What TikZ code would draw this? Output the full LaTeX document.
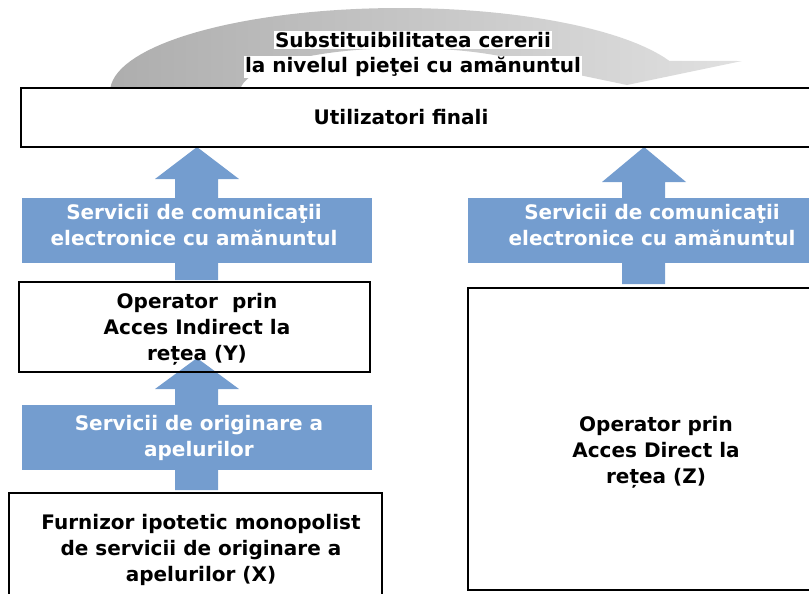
\documentclass[tikz,border=0pt]{standalone}
\usepackage{fontspec}
\setmainfont{DejaVu Sans}
\definecolor{arrowblue}{RGB}{116,157,207}
\tikzset{
  boxtext/.style={font=\fontsize{15}{19.5}\selectfont\bfseries, align=center, inner sep=0pt},
  bandtext/.style={boxtext, text=white},
  arctext/.style={boxtext, fill=white, inner sep=1pt},
  boxline/.style={line width=1.3pt}
}
\begin{document}
\begin{tikzpicture}[x=0.75pt, y=-0.75pt]
        \useasboundingbox (0,0) rectangle (809,593);
        \clip (0,0) rectangle (809,593);

        \shade[left color=black!32, right color=black!12] (110,92)
          -- plot[domain=180:338.3, samples=60] ({400+290*cos(\x)},{92+84*sin(\x)})
          -- (742,61) -- (627,85) -- (512,61) -- (522,61)
          -- plot[domain=315.2:180, samples=60] ({405+165*cos(\x)},{92+44*sin(\x)})
          -- (240,92) -- cycle;
        \node[arctext] (sub1) at (413,40) {Substituibilitatea cererii};
        \node[arctext] (sub2) at (413,67) {la nivelul pieţei cu amănuntul};

        \filldraw[boxline, fill=white] (21,88) rectangle (815,147);
        \node[boxtext] (users) at (401,117) {Utilizatori finali};

        \fill[arrowblue] (175,280) -- (175,179) -- (155,179) -- (197,147) -- (239,179) -- (218,179) -- (218,280) -- cycle;
        \fill[arrowblue] (622,284) -- (622,182) -- (602,182) -- (644,147) -- (686,182) -- (665,182) -- (665,284) -- cycle;
        \fill[arrowblue] (175,490) -- (175,389) -- (155,389) -- (197,358) -- (239,389) -- (218,389) -- (218,490) -- cycle;
        \draw[boxline] (21,147) -- (815,147);

        \fill[arrowblue] (22,198) rectangle (372,263);
        \fill[arrowblue] (468,198) rectangle (815,263);
        \fill[arrowblue] (22,405) rectangle (372,470);
        \node[bandtext] (retailY) at (194,225.5) {Servicii de comunicaţii\\electronice cu amănuntul};
        \node[bandtext] (retailZ) at (652,225.5) {Servicii de comunicaţii\\electronice cu amănuntul};
        \node[bandtext] (orig) at (199,437.5) {Servicii de originare a\\apelurilor};

        \draw[boxline] (19,282) rectangle (370,372);
        \node[boxtext] (opY) at (197,329) {Operator\ \ prin\\Acces Indirect la\\rețea (Y)};

        \draw[boxline] (9,493) rectangle (382,600);
        \node[boxtext] (furnX) at (201,550) {Furnizor ipotetic monopolist\\de servicii de originare a\\apelurilor (X)};

        \draw[boxline] (468,288) rectangle (815,590);
        \node[boxtext] (opZ) at (656,452) {Operator prin\\Acces Direct la\\rețea (Z)};
    \end{tikzpicture}
\end{document}
